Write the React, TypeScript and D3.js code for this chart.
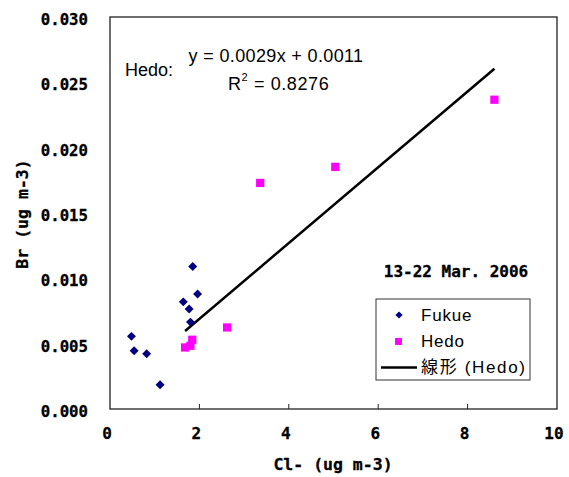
import React from "react";
import * as d3 from "d3";

// Fukue (diamonds) and Hedo (squares), Cl- vs Br
const fukueCl = [1.85, 1.96, 1.64, 1.77, 1.8, 0.48, 0.54, 0.82, 1.12];
const fukueBr = [0.0109, 0.0088, 0.0082, 0.00765, 0.00665, 0.00556, 0.00446, 0.00423, 0.00186];
const hedoCl = [1.68, 1.8, 1.84, 2.62, 3.36, 5.04, 8.6];
const hedoBr = [0.00471, 0.00484, 0.0053, 0.00624, 0.0173, 0.01853, 0.02367];

const slope = 0.0029;
const intercept = 0.0011;
const rSquared = "0.8276";

const xTicks = [0, 2, 4, 6, 8, 10];
const yTicks = [0, 0.005, 0.01, 0.015, 0.02, 0.025, 0.03];

const W = 569;
const H = 477;
const plot = { left: 110, right: 557, top: 17, bottom: 409 };

const monoBold = "'DejaVu Sans Mono', monospace";
const sans = "'Liberation Sans', Arial, 'Noto Sans CJK JP', sans-serif";

const App = () => {
  const x = d3.scaleLinear().domain([0, 10]).range([plot.left, plot.right]);
  const y = d3.scaleLinear().domain([0, 0.03]).range([plot.bottom, plot.top]);

  const diamond = d3.symbol(d3.symbolSquare, 40)();
  const square = d3.symbol(d3.symbolSquare, 68)();
  const legDiamond = d3.symbol(d3.symbolSquare, 26)();
  const legSquare = d3.symbol(d3.symbolSquare, 48)();

  const x0 = d3.min(hedoCl);
  const x1 = d3.max(hedoCl);
  const trend = d3.line()([
    [x(x0), y(slope * x0 + intercept)],
    [x(x1), y(slope * x1 + intercept)],
  ]);

  const fmt = d3.format(".3f");

  return (
    <svg width={W} height={H} style={{ position: "absolute", left: 0, top: 0, background: "#fff" }}>
      {/* frame */}
      <rect
        x={plot.left}
        y={plot.top}
        width={plot.right - plot.left}
        height={plot.bottom - plot.top}
        fill="none"
        stroke="#222"
        strokeWidth={1.3}
      />
      {/* x ticks (inward) */}
      {xTicks.slice(1, -1).map((t) => (
        <line key={t} x1={x(t)} x2={x(t)} y1={plot.bottom} y2={plot.bottom - 5} stroke="#222" strokeWidth={1} />
      ))}
      {xTicks.map((t) => (
        <text
          key={"xl" + t}
          x={x(t) - 3}
          y={433}
          textAnchor="middle"
          dominantBaseline="central"
          fontFamily={monoBold}
          fontWeight="bold"
          fontSize={16}
          stroke="#000"
          strokeWidth={0.3}
        >
          {t}
        </text>
      ))}
      {yTicks.map((t) => (
        <text
          key={"yl" + t}
          x={88}
          y={y(t) + 2.5}
          textAnchor="end"
          dominantBaseline="central"
          fontFamily={monoBold}
          fontWeight="bold"
          fontSize={15.7}
          stroke="#000"
          strokeWidth={0.3}
        >
          {fmt(t)}
        </text>
      ))}
      {/* axis titles */}
      <text
        x={333}
        y={464}
        textAnchor="middle"
        dominantBaseline="central"
        fontFamily={monoBold}
        fontWeight="bold"
        fontSize={16.5}
        stroke="#000"
        strokeWidth={0.3}
        xmlSpace="preserve"
      >
        {"Cl- (ug m-3)"}
      </text>
      <text
        transform="translate(22,214) rotate(-90)"
        textAnchor="middle"
        dominantBaseline="central"
        fontFamily={monoBold}
        fontWeight="bold"
        fontSize={16.5}
        stroke="#000"
        strokeWidth={0.3}
        xmlSpace="preserve"
      >
        {"Br (ug m-3)"}
      </text>

      {/* trend line */}
      <path d={trend} stroke="#000" strokeWidth={2.5} fill="none" />

      {/* Fukue */}
      {fukueCl.map((c, i) => (
        <path
          key={"f" + i}
          d={diamond}
          transform={`translate(${x(c)},${y(fukueBr[i])}) rotate(45)`}
          fill="#000080"
        />
      ))}
      {/* Hedo */}
      {hedoCl.map((c, i) => (
        <path key={"h" + i} d={square} transform={`translate(${x(c)},${y(hedoBr[i])})`} fill="#FF00FF" />
      ))}

      {/* equation */}
      <text x={125} y={70} dominantBaseline="central" fontFamily={sans} fontSize={18}>
        Hedo:
      </text>
      <text
        x={276}
        y={56}
        textAnchor="middle"
        dominantBaseline="central"
        fontFamily={sans}
        fontSize={18}
        letterSpacing={0.35}
      >
        {`y = ${slope}x + ${intercept}`}
      </text>
      <text x={228} y={84} dominantBaseline="central" fontFamily={sans} fontSize={18} letterSpacing={0.6}>
        R<tspan dy={-7} fontSize={11}>2</tspan>
        <tspan dy={7}>{` = ${rSquared}`}</tspan>
      </text>

      <text
        x={456}
        y={271}
        textAnchor="middle"
        dominantBaseline="central"
        fontFamily={monoBold}
        fontWeight="bold"
        fontSize={16}
        stroke="#000"
        strokeWidth={0.3}
      >
        13-22 Mar. 2006
      </text>

      {/* legend */}
      <rect x={376} y={299} width={154} height={81} fill="#fff" stroke="#333" strokeWidth={1} />
      <path d={legDiamond} transform="translate(399,315) rotate(45)" fill="#000080" />
      <text x={421} y={315} dominantBaseline="central" fontFamily={sans} fontSize={17} letterSpacing={0.8}>
        Fukue
      </text>
      <path d={legSquare} transform="translate(398.5,341.5)" fill="#FF00FF" />
      <text x={421} y={341.5} dominantBaseline="central" fontFamily={sans} fontSize={17} letterSpacing={0.8}>
        Hedo
      </text>
      <line x1={381} x2={417} y1={367.5} y2={367.5} stroke="#000" strokeWidth={2.5} />
      <text
        x={421}
        y={367.5}
        dominantBaseline="central"
        fontFamily={sans}
        fontSize={17}
        textLength={104}
        lengthAdjust="spacing"
        xmlSpace="preserve"
      >
        {"線形 (Hedo)"}
      </text>
    </svg>
  );
};

export default App;
